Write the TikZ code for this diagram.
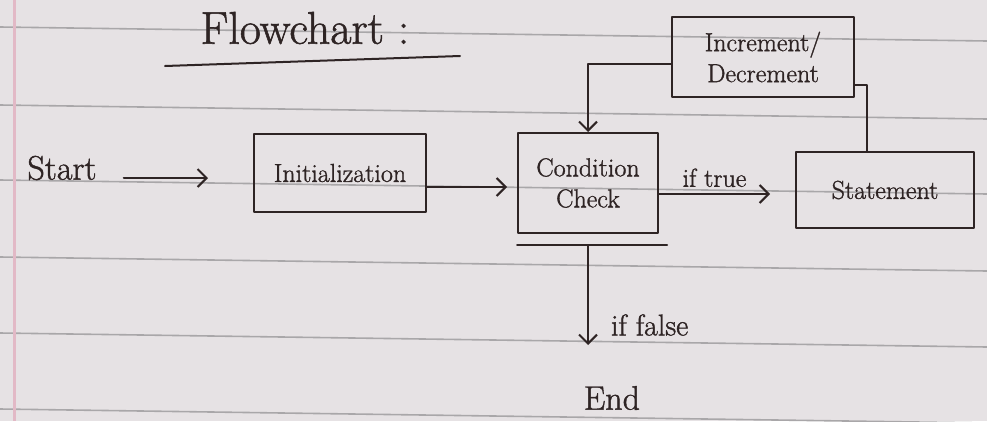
\documentclass[tikz,border=0pt]{standalone}
\usepackage{fontspec}
\setmainfont{Latin Modern Roman}[FakeBold=1.2,AutoFakeBold=1.2]
\usetikzlibrary{arrows.meta}
\definecolor{inkc}{HTML}{2E2424}
\definecolor{paper}{HTML}{E6E2E4}
\definecolor{rule}{HTML}{A9A7A9}
\definecolor{margin}{HTML}{E2B9C6}
\tikzset{
  ink/.style={draw=inkc, line width=2pt, line cap=round, line join=round},
  arr/.style={ink, -{Straight Barb[length=9pt,width=18pt,line width=2pt]}},
  txt/.style={text=inkc, inner sep=2pt, font=\fontsize{28}{32}\selectfont\bfseries},
  boxnode/.style={ink, rectangle, align=center, text=inkc, inner sep=3pt,
    font=\fontsize{26}{31}\selectfont\bfseries},
  paperline/.style={draw=rule, line width=1.6pt}
}
\begin{document}
\begin{tikzpicture}[x=1pt,y=-1pt]
  % paper
  \fill[paper] (0,0) rectangle (987,421);
  \useasboundingbox (0,0) rectangle (987,421);
  \foreach \yy in {27,105,180,257,333,409}
    \draw[paperline] (0,\yy) -- (987,\yy+14);
  \draw[draw=margin, line width=3pt] (14,0) -- (14,421);

  % title
  \node[txt, font=\fontsize{46}{50}\selectfont\bfseries] (title) at (305,28) {Flowchart :};
  \coordinate (ul1) at (165,66);
  \coordinate (ul2) at (460,56);
  \draw[ink] (ul1) -- (ul2);

  % nodes
  \node[txt, font=\fontsize{34}{38}\selectfont\bfseries] (start) at (62,168) {Start};
  \node[boxnode, minimum width=172pt, minimum height=78pt] (init) at (340,173) {Initialization};
  \node[boxnode, minimum width=140pt, minimum height=100pt] (cond) at (588,183) {Condition\\Check};
  \node[boxnode, minimum width=178pt, minimum height=76pt] (stmt) at (885,190) {Statement};
  \node[boxnode, minimum width=182pt, minimum height=80pt] (inc) at (763,57) {Increment/\\Decrement};
  \node[txt, font=\fontsize{34}{38}\selectfont\bfseries] (end) at (612,398) {End};

  % helper coordinates
  \coordinate (r0) at (0,178);
  \coordinate (r1) at (0,187);
  \coordinate (r2) at (0,194);
  \coordinate (bar) at (0,245);
  \coordinate (fb) at (0,345);

  % connectors
  \draw[arr] ([xshift=25pt]start.east |- r0) -- ([xshift=-45pt]init.west |- r0);
  \draw[arr] (init.east |- r1) -- ([xshift=-10pt]cond.west |- r1);
  \draw[arr] (cond.east |- r2) -- ([xshift=-25pt]stmt.west |- r2)
    node[txt, midway, above=4pt, font=\fontsize{26}{30}\selectfont\bfseries] {if true};
  \draw[ink] ([xshift=-18pt]stmt.north) |- ([yshift=-28pt]inc.east);
  \draw[arr] ([yshift=-7pt]inc.west) -| (cond.north);
  \draw[ink] (cond.west |- bar) -- ([xshift=8pt]cond.east |- bar);
  \draw[arr] (cond.south |- bar) -- (cond.south |- fb)
    node[txt, pos=0.8, right=20pt, font=\fontsize{30}{34}\selectfont\bfseries] {if false};
\end{tikzpicture}
\end{document}
